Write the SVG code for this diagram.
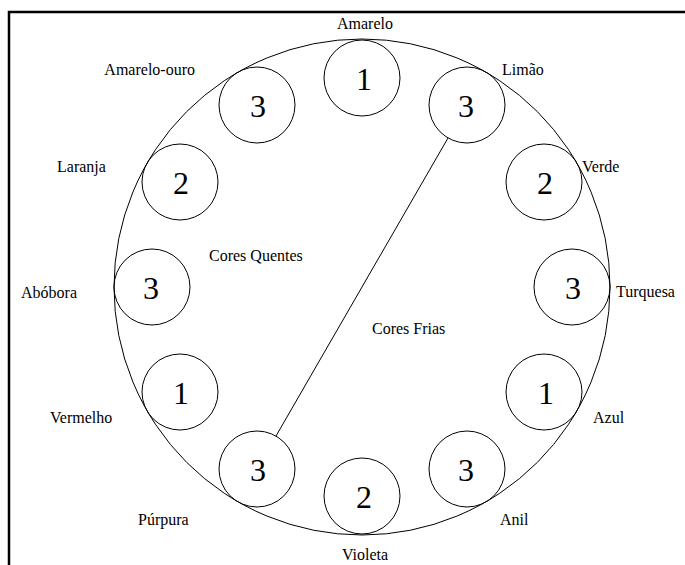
<svg xmlns="http://www.w3.org/2000/svg" width="685" height="565" viewBox="0 0 685 565" font-family="'Liberation Serif', 'Times New Roman', serif">
<style>
.c{fill:none;stroke:#000;stroke-width:1}
.n{font-family:'Liberation Serif','Times New Roman',serif;font-size:32px;text-anchor:middle;fill:#000}
.l{font-family:'Liberation Serif','Times New Roman',serif;font-size:16px;fill:#000}
.m{text-anchor:middle}
.e{text-anchor:end}
</style>
<rect width="685" height="565" fill="#fff"/>
<path d="M9 565 V12 H685" fill="none" stroke="#000" stroke-width="2.5"/>
<g id="roda"><circle class="c" cx="362" cy="287" r="248"/></g>
<g id="connectors"><line x1="448" y1="138" x2="276" y2="436" stroke="#000" stroke-width="1"/></g>
<g id="amarelo"><circle class="c" cx="362" cy="78" r="38"/><text class="n" x="364" y="90">1</text><text class="l m" x="365" y="29">Amarelo</text></g>
<g id="limao"><circle class="c" cx="467" cy="105" r="38"/><text class="n" x="466" y="117">3</text><text class="l" x="502" y="75">Limão</text></g>
<g id="verde"><circle class="c" cx="544" cy="182" r="38"/><text class="n" x="545" y="194">2</text><text class="l" x="582" y="172">Verde</text></g>
<g id="turquesa"><circle class="c" cx="572" cy="287" r="38"/><text class="n" x="573" y="299">3</text><text class="l" x="616" y="297">Turquesa</text></g>
<g id="azul"><circle class="c" cx="544" cy="392" r="38"/><text class="n" x="546" y="404">1</text><text class="l" x="593" y="423">Azul</text></g>
<g id="anil"><circle class="c" cx="467" cy="469" r="38"/><text class="n" x="466" y="481">3</text><text class="l" x="500" y="525">Anil</text></g>
<g id="violeta"><circle class="c" cx="362" cy="496" r="38"/><text class="n" x="364" y="508">2</text><text class="l m" x="365" y="560">Violeta</text></g>
<g id="purpura"><circle class="c" cx="257" cy="469" r="38"/><text class="n" x="258" y="481">3</text><text class="l" x="138" y="525">Púrpura</text></g>
<g id="vermelho"><circle class="c" cx="180" cy="392" r="38"/><text class="n" x="181" y="404">1</text><text class="l" x="50" y="423">Vermelho</text></g>
<g id="abobora"><circle class="c" cx="152" cy="287" r="38"/><text class="n" x="151" y="299">3</text><text class="l" x="21" y="298">Abóbora</text></g>
<g id="laranja"><circle class="c" cx="180" cy="182" r="38"/><text class="n" x="181" y="194">2</text><text class="l" x="57" y="172">Laranja</text></g>
<g id="amarelo-ouro"><circle class="c" cx="257" cy="105" r="38"/><text class="n" x="258" y="117">3</text><text class="l e" x="195" y="75">Amarelo-ouro</text></g>
<g id="cores-quentes"><text class="l" x="209" y="261">Cores Quentes</text></g>
<g id="cores-frias"><text class="l" x="372" y="334">Cores Frias</text></g>
</svg>
